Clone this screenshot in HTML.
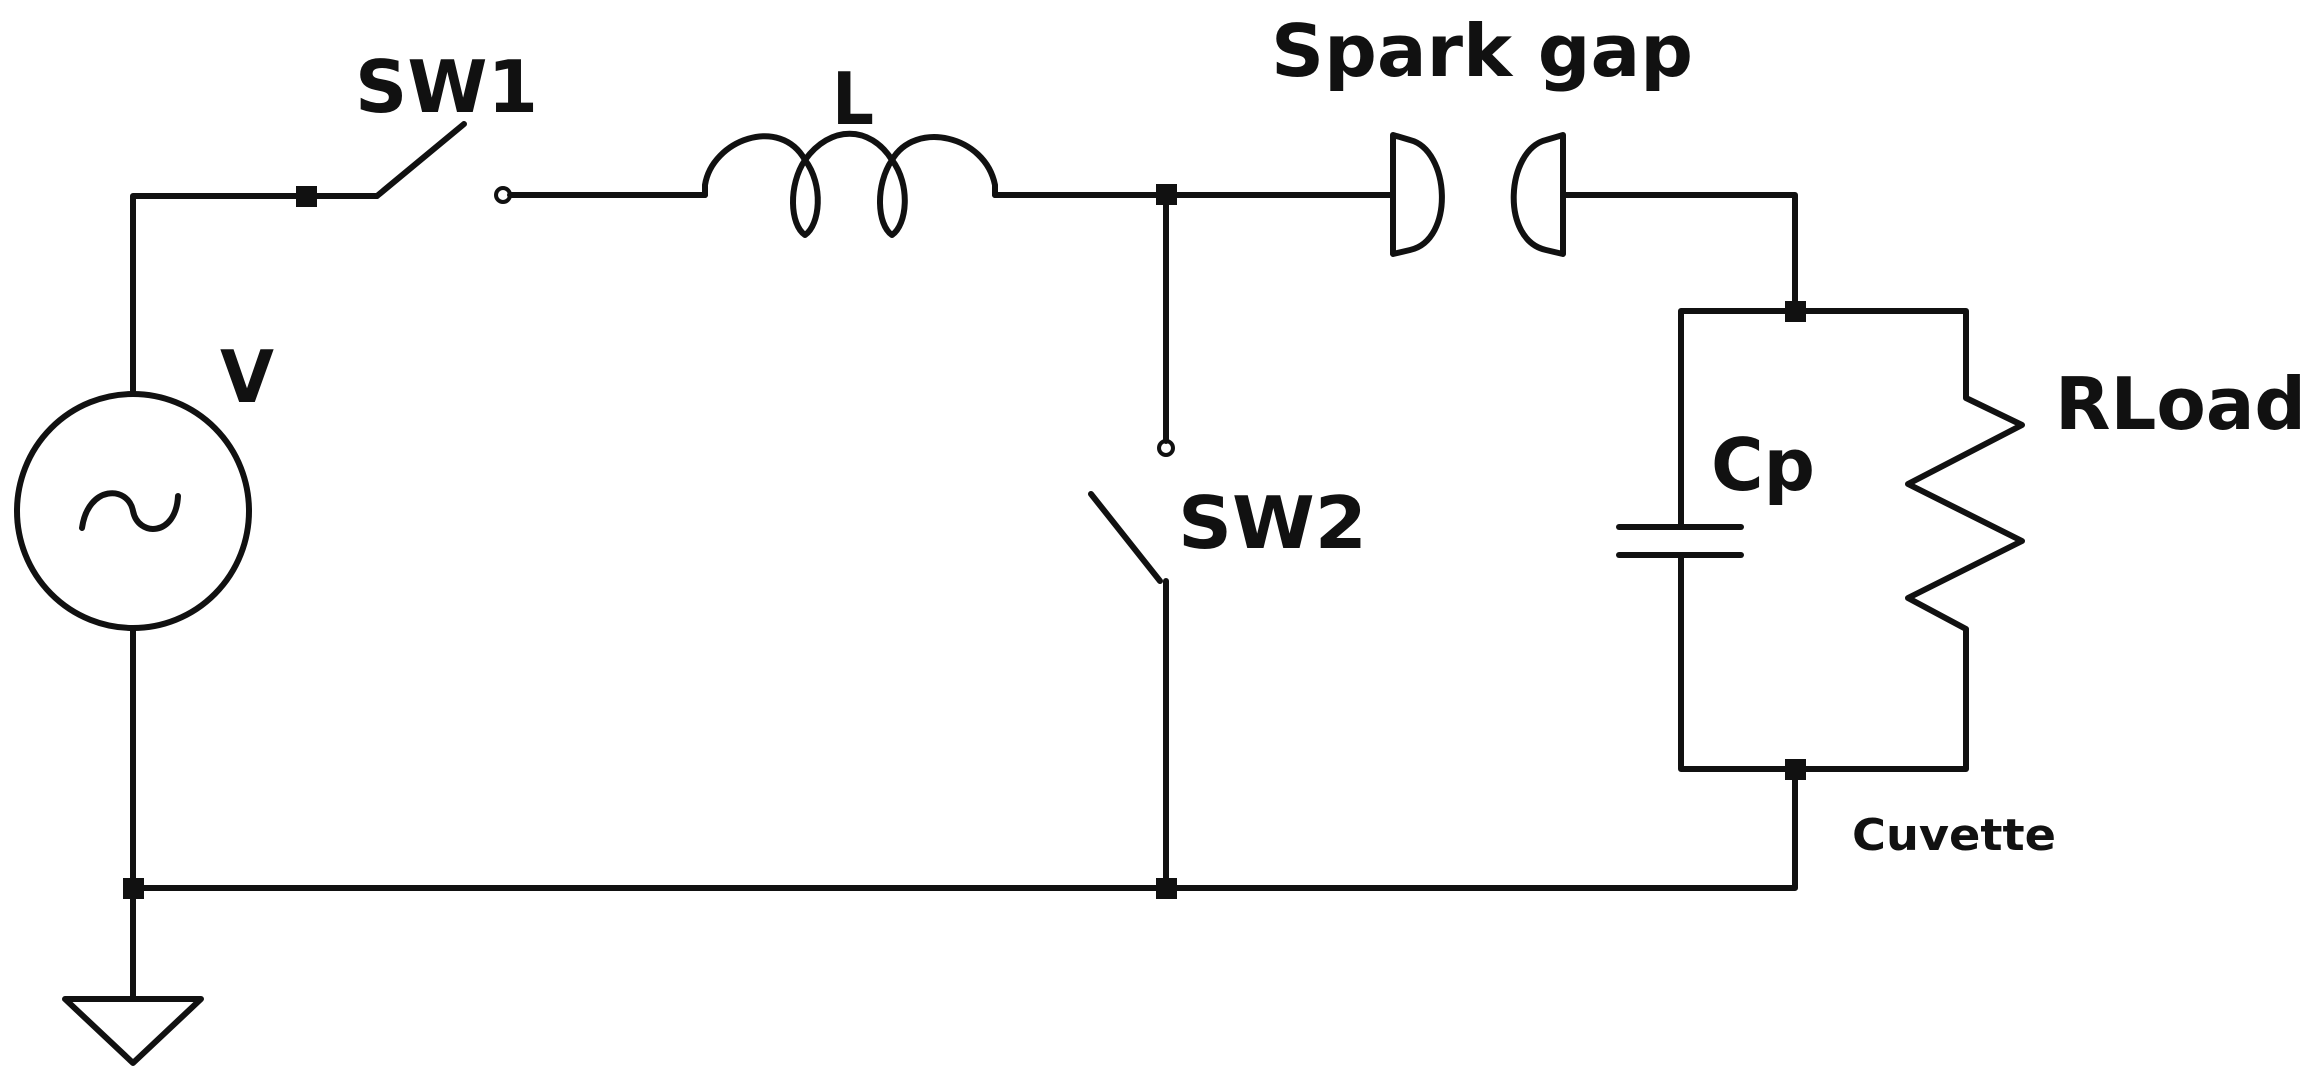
<!DOCTYPE html>
<html><head><meta charset="utf-8"><style>
html,body{margin:0;padding:0;background:#fff;}
svg{display:block;}
text{font-family:"DejaVu Sans","Liberation Sans",sans-serif;font-weight:bold;fill:#111;}
</style></head><body>
<svg width="2320" height="1084" viewBox="0 0 2320 1084" xmlns="http://www.w3.org/2000/svg">
<g fill="none" stroke="#111" stroke-width="6" stroke-linejoin="round" stroke-linecap="round">
<polyline points="377,196 133,196 133,394"/>
<line x1="133" y1="628" x2="133" y2="999"/>
<ellipse cx="133" cy="511" rx="116" ry="117"/>
<path d="M82,528 C88,485 128,485 133,511 C138,537 176,537 178,496"/>
<polygon points="65,999 201,999 133,1063"/>
<line x1="377" y1="196" x2="464" y2="124"/>
<circle cx="503" cy="195" r="7" stroke-width="4"/>
<line x1="510" y1="195" x2="705" y2="195"/>
<path d="M705,195 L705,185 C712,140 780,115 805,160 C830,125 870,125 892,160 C915,120 985,135 995,185 L995,195"/>
<path d="M805,160 C788,185 790,225 805,235 C820,225 824,185 805,160"/>
<path d="M892,160 C875,185 877,225 892,235 C907,225 911,185 892,160"/>
<line x1="995" y1="195" x2="1393" y2="195"/>
<path d="M1393,195 L1393,135 L1410,140 C1450,150 1455,240 1410,250 L1393,254 Z"/>
<path d="M1563,135 L1546,140 C1506,150 1500,240 1546,250 L1563,254 Z"/>
<polyline points="1563,195 1795,195 1795,311"/>
<line x1="1166" y1="195" x2="1166" y2="441"/>
<circle cx="1166" cy="448" r="7" stroke-width="4"/>
<line x1="1091" y1="494" x2="1160" y2="581"/>
<line x1="1166" y1="581" x2="1166" y2="888"/>
<polyline points="1681,527 1681,311 1966,311 1966,398 2022,425 1908,484 2022,541 1908,598 1966,629 1966,769 1681,769 1681,555"/>
<line x1="1619" y1="527" x2="1741" y2="527"/>
<line x1="1619" y1="555" x2="1741" y2="555"/>
<polyline points="1795,769 1795,888 133,888"/>
</g>
<g fill="#111">
<rect x="296" y="186" width="21" height="21"/>
<rect x="1156" y="184" width="21" height="21"/>
<rect x="123" y="878" width="21" height="21"/>
<rect x="1156" y="878" width="21" height="21"/>
<rect x="1785" y="301" width="21" height="21"/>
<rect x="1785" y="759" width="21" height="21"/>
</g>
<text x="355" y="112" font-size="72" textLength="183" lengthAdjust="spacingAndGlyphs">SW1</text>
<text x="832" y="124" font-size="72" textLength="42" lengthAdjust="spacingAndGlyphs">L</text>
<text x="220" y="402" font-size="72" textLength="54" lengthAdjust="spacingAndGlyphs">V</text>
<text x="1271" y="76" font-size="72" textLength="422" lengthAdjust="spacingAndGlyphs">Spark gap</text>
<text x="1178" y="548" font-size="72" textLength="189" lengthAdjust="spacingAndGlyphs">SW2</text>
<text x="1711" y="490" font-size="72" textLength="104" lengthAdjust="spacingAndGlyphs">Cp</text>
<text x="2055" y="429" font-size="72" textLength="251" lengthAdjust="spacingAndGlyphs">RLoad</text>
<text x="1852" y="850" font-size="44" textLength="204" lengthAdjust="spacingAndGlyphs">Cuvette</text>
</svg>
</body></html>
